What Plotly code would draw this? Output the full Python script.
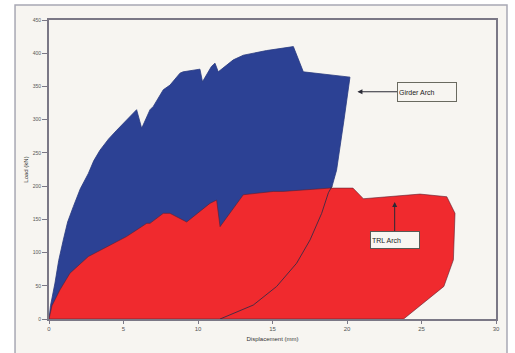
import plotly.graph_objects as go

# Girder Arch: loading envelope (displacement mm, load kN)
girder_disp = [0.0, 0.1, 0.4, 0.65, 0.96, 1.25, 1.63, 2.1, 2.64, 3.0, 3.42, 4.0, 4.54, 4.99,
               5.88, 6.22, 6.78, 7.0, 7.67, 8.12, 8.79, 9.0, 10.13, 10.3, 10.9, 11.14,
               11.36, 12.37, 13.04, 14.6, 16.4, 17.07, 20.2]
girder_load = [0, 20, 54, 88, 119, 146, 169, 196, 219, 238, 254, 271, 284, 294,
               315, 287, 315, 320, 345, 352, 370, 372, 376, 357, 380, 385,
               372, 390, 397, 404, 410, 372, 364]
# Girder Arch: unloading path back to zero load
unload_disp = [20.2, 19.8, 19.5, 19.3, 19.0, 18.75, 18.3, 17.52, 16.62, 15.28, 13.71, 12.15, 11.48]
unload_load = [364, 300, 254, 224, 200, 190, 159, 119, 84, 49, 21, 6, 0]

# TRL Arch: load-displacement envelope
trl_disp = [0.0, 0.2, 0.74, 1.41, 2.64, 3.87, 5.2, 5.88, 6.56, 6.78, 7.67, 8.12, 9.24,
            10.8, 11.25, 11.48, 13.04, 15.06, 15.7, 18.86, 19.1, 20.4, 21.1, 24.9,
            26.7, 27.25, 27.14, 26.5, 23.8]
trl_load = [0, 20, 44, 69, 94, 109, 124, 134, 144, 144, 159, 159, 146,
            174, 179, 139, 187, 192, 192, 197, 197, 197, 181, 188,
            184, 159, 89, 49, 0]

x_ticks = [0, 5, 10, 15, 20, 25, 30]
y_ticks = [0, 50, 100, 150, 200, 250, 300, 350, 400, 450]

blue = "#2c4194"
red = "#f02a2e"
edge = "#3b2a45"
axis_col = "#7b7886"
panel = "#f7f5f1"

fig = go.Figure()

fig.add_trace(go.Scatter(
    x=girder_disp + unload_disp[1:] + [0.0],
    y=girder_load + unload_load[1:] + [0],
    fill="toself", fillcolor=blue, mode="lines",
    line=dict(color="#283a80", width=0.8), hoverinfo="skip", showlegend=False,
))
fig.add_trace(go.Scatter(
    x=trl_disp + [0.0], y=trl_load + [0],
    fill="toself", fillcolor=red, mode="lines",
    line=dict(color="#5a2030", width=0.6), hoverinfo="skip", showlegend=False,
))
# Unloading curve drawn over the TRL fill
fig.add_trace(go.Scatter(
    x=unload_disp[4:], y=unload_load[4:], mode="lines",
    line=dict(color=edge, width=0.9), hoverinfo="skip", showlegend=False,
))

# Outer panel frame
fig.add_shape(type="rect", xref="paper", yref="paper",
              x0=-0.076, x1=1.0246, y0=-0.2, y1=1.05,
              fillcolor=panel, line=dict(color="#a8a8b4", width=1.5), layer="below")

# Series labels with arrows
fig.add_annotation(x=20.7, y=342, ax=25.4, ay=342, xref="x", yref="y", axref="x", ayref="y",
                   text="", showarrow=True, arrowhead=2, arrowsize=1, arrowwidth=1,
                   arrowcolor="#2a2a35", standoff=0)
fig.add_annotation(x=25.4, y=342, xref="x", yref="y", text="Girder Arch", showarrow=False,
                   font=dict(family="Arial, Liberation Sans", size=7, color="#222"),
                   width=56, height=16, align="left",
                   bgcolor=panel, bordercolor="#6a6a60", borderwidth=1, borderpad=1)
fig.add_annotation(x=23.2, y=176, ax=23.2, ay=126, xref="x", yref="y", axref="x", ayref="y",
                   text="", showarrow=True, arrowhead=2, arrowsize=1, arrowwidth=1,
                   arrowcolor="#2a2a35", standoff=0)
fig.add_annotation(x=23.2, y=119, xref="x", yref="y", text="TRL Arch", showarrow=False,
                   font=dict(family="Arial, Liberation Sans", size=7, color="#222"),
                   width=46, height=14, align="left",
                   bgcolor="#f8f6f2", bordercolor="#5a5a55", borderwidth=1, borderpad=1)

fig.update_xaxes(range=[0, 30], tickvals=x_ticks, ticks="outside", ticklen=3,
                 tickcolor=axis_col, showgrid=False, zeroline=False,
                 showline=True, linecolor=axis_col, linewidth=2, mirror=True,
                 tickfont=dict(family="Arial, Liberation Sans", size=6, color="#555"),
                 title=dict(text="Displacement (mm)", standoff=6,
                            font=dict(family="Arial, Liberation Sans", size=6, color="#333")))
fig.update_yaxes(range=[0, 450], tickvals=y_ticks, ticks="outside", ticklen=5,
                 tickcolor=axis_col, showgrid=False, zeroline=False,
                 showline=True, linecolor=axis_col, linewidth=2, mirror=True,
                 tickfont=dict(family="Arial, Liberation Sans", size=5, color="#555"),
                 title=dict(text="Load (kN)", standoff=4,
                            font=dict(family="Arial, Liberation Sans", size=6, color="#333")))

fig.update_layout(width=515, height=353, margin=dict(l=49, r=19, t=20, b=34),
                  paper_bgcolor="white", plot_bgcolor=panel)

fig.write_html("out.html")
